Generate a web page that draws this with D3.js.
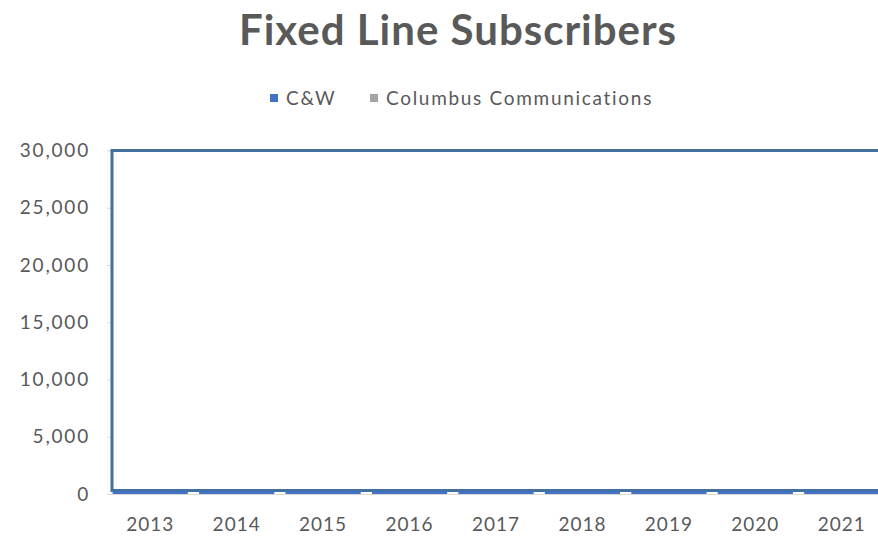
<!DOCTYPE html>
<html>
<head>
<meta charset="utf-8">
<script src="https://cdn.jsdelivr.net/npm/d3@7"></script>
<style>
  body { margin: 0; background: #fff; }
  svg { display: block; font-family: Lato, "Open Sans", sans-serif; }
</style>
</head>
<body>
<svg id="chart" width="878" height="538"></svg>
<script>
// chart data
const years = ['2013', '2014', '2015', '2016', '2017', '2018', '2019', '2020', '2021'];
const cwValues = [250, 250, 250, 250, 250, 250, 250, 250, 250];
const columbusValues = [0, 0, 0, 0, 0, 0, 0, 0, 0];
const yTicks = [0, 5000, 10000, 15000, 20000, 25000, 30000];
const seriesNames = ['C&W', 'Columbus Communications'];
const seriesColors = ['#4472c4', '#a5a5a5'];

const svg = d3.select('#chart');
const textColor = '#595959';

const margin = { top: 150, left: 107, bottom: 44 };
const plotRight = 885;
const height = 538;

const xScale = d3.scaleBand()
  .domain(years)
  .range([margin.left, plotRight])
  .paddingInner(0.13)
  .paddingOuter(0.065);

const yScale = d3.scaleLinear()
  .domain([0, 30000])
  .range([494, 150.5]);

// title
svg.append('text')
  .attr('x', 458)
  .attr('y', 45)
  .attr('text-anchor', 'middle')
  .attr('font-size', 42)
  .attr('font-weight', 'bold')
  .attr('letter-spacing', 1)
  .attr('fill', textColor)
  .text('Fixed Line Subscribers');

// legend
const legendX = [270, 370];
seriesNames.forEach((name, i) => {
  const g = svg.append('g').attr('transform', 'translate(' + legendX[i] + ', 98)');
  g.append('rect')
    .attr('x', 0).attr('y', -4)
    .attr('width', 8).attr('height', 8)
    .attr('fill', seriesColors[i]);
  g.append('text')
    .attr('x', 16).attr('y', 7)
    .attr('font-size', 19)
    .attr('letter-spacing', 1.7)
    .attr('fill', textColor)
    .text(name);
});

// gridlines
svg.append('g')
  .selectAll('line')
  .data(yTicks)
  .enter()
  .append('line')
  .attr('x1', margin.left)
  .attr('x2', plotRight)
  .attr('y1', d => yScale(d) + 0.5)
  .attr('y2', d => yScale(d) + 0.5)
  .attr('stroke', '#d9d9d9')
  .attr('stroke-width', 1);

// y axis
const yAxis = d3.axisLeft(yScale)
  .tickValues(yTicks)
  .tickSize(0)
  .tickPadding(0)
  .tickFormat(d3.format(','));

svg.append('g')
  .attr('id', 'y-axis')
  .attr('transform', 'translate(90, 0)')
  .call(yAxis)
  .call(g => g.select('.domain').remove())
  .selectAll('text')
  .attr('font-size', 19)
  .attr('letter-spacing', 1.8)
  .attr('font-family', 'Lato, "Open Sans", sans-serif')
  .attr('fill', textColor);

// x axis
const xAxis = d3.axisBottom(xScale).tickSize(0).tickPadding(0);
svg.append('g')
  .attr('id', 'x-axis')
  .attr('transform', 'translate(0, 517)')
  .call(xAxis)
  .call(g => g.select('.domain').remove())
  .selectAll('text')
  .attr('font-size', 19)
  .attr('letter-spacing', 1)
  .attr('font-family', 'Lato, "Open Sans", sans-serif')
  .attr('fill', textColor);

// white shape with blue outline over the plot area
svg.append('rect')
  .attr('x', 112)
  .attr('y', 150.5)
  .attr('width', 800)
  .attr('height', 340)
  .attr('fill', '#fff')
  .attr('stroke', '#41719c')
  .attr('stroke-width', 3);

// stacked bars
const rows = years.map((y, i) => ({ year: y, cw: cwValues[i], columbus: columbusValues[i] }));
const stack = d3.stack().keys(['cw', 'columbus'])(rows);

svg.append('g')
  .selectAll('g')
  .data(stack)
  .enter()
  .append('g')
  .attr('fill', (d, i) => seriesColors[i])
  .selectAll('rect')
  .data(d => d)
  .enter()
  .append('rect')
  .attr('x', d => xScale(d.data.year))
  .attr('y', d => yScale(d[1]))
  .attr('width', xScale.bandwidth())
  .attr('height', d => yScale(d[0]) - yScale(d[1]));
</script>
</body>
</html>
